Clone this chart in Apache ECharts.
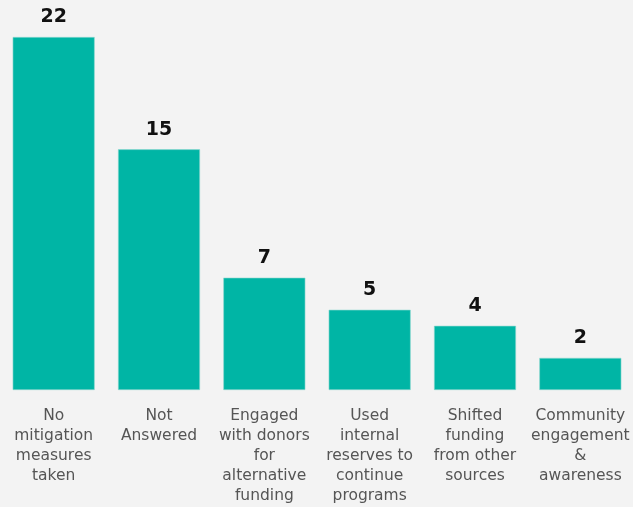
<!DOCTYPE html>
<html><head><meta charset="utf-8">
<script src="https://cdn.jsdelivr.net/npm/echarts@6/dist/echarts.min.js"></script>
<style>html,body{margin:0;padding:0;background:#f3f3f3}#c{width:633px;height:507px}</style>
</head><body><div id="c"></div>
<script>
const categories = ["No\nmitigation\nmeasures\ntaken","Not\nAnswered","Engaged\nwith donors\nfor\nalternative\nfunding","Used\ninternal\nreserves to\ncontinue\nprograms","Shifted\nfunding\nfrom other\nsources","Community\nengagement\n&\nawareness"];
const values = [22,15,7,5,4,2];
const chart = echarts.init(document.getElementById('c'));
chart.setOption({
  backgroundColor:'#f3f3f3',
  animation:false,
  grid:{left:1,right:0,top:37,bottom:117,containLabel:false},
  xAxis:{type:'category',data:categories,axisLine:{show:false},axisTick:{show:false},
    axisLabel:{interval:0,color:'#555555',fontFamily:'DejaVu Sans',fontSize:15.5,lineHeight:20,margin:16}},
  yAxis:{type:'value',min:0,max:22,show:false,splitLine:{show:false}},
  series:[{type:'bar',data:values,barWidth:82,
    itemStyle:{color:'#00b5a5',borderColor:'#8fd8d0',borderWidth:0.6},
    label:{show:true,position:'top',distance:10,color:'#111',fontWeight:'bold',fontFamily:'DejaVu Sans',fontSize:19}}]
});
</script></body></html>
